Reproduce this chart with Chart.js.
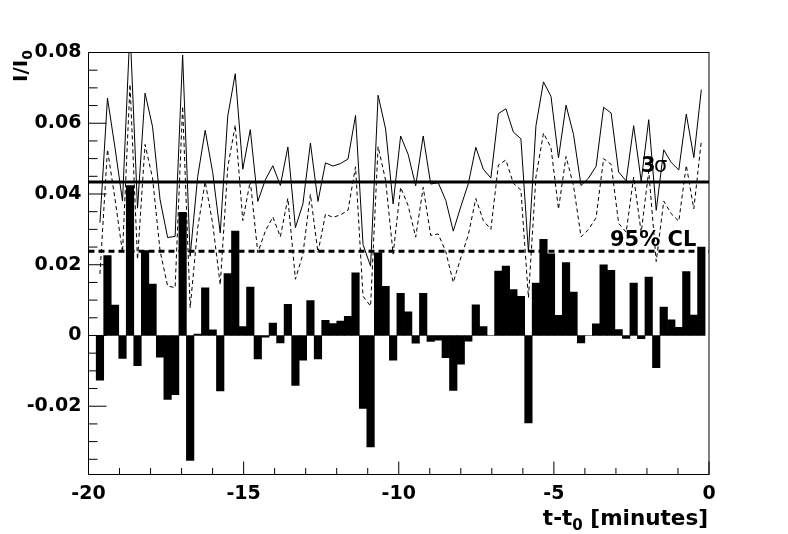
<!DOCTYPE html>
<html><head><meta charset="utf-8">
<script src="https://cdn.jsdelivr.net/npm/chart.js@4.4.1/dist/chart.umd.min.js"></script>
<style>html,body{margin:0;padding:0;background:#fff;}canvas{display:block;}</style>
</head><body>
<canvas id="c" width="788" height="534"></canvas>
<script>
// bin centres, minutes relative to t0
const binTimes = [
 -19.631,-19.389,-19.146,-18.904,-18.662,-18.420,-18.177,-17.935,-17.693,-17.450,
 -17.208,-16.966,-16.723,-16.481,-16.239,-15.997,-15.754,-15.512,-15.270,-15.027,
 -14.785,-14.543,-14.300,-14.058,-13.816,-13.574,-13.331,-13.089,-12.847,-12.604,
 -12.362,-12.120,-11.877,-11.635,-11.393,-11.151,-10.908,-10.666,-10.424,-10.181,
 -9.939,-9.697,-9.454,-9.212,-8.970,-8.728,-8.485,-8.243,-8.001,-7.758,
 -7.516,-7.274,-7.031,-6.789,-6.547,-6.305,-6.062,-5.820,-5.578,-5.335,
 -5.093,-4.851,-4.608,-4.366,-4.124,-3.882,-3.639,-3.397,-3.155,-2.912,
 -2.670,-2.428,-2.185,-1.943,-1.701,-1.459,-1.216,-0.974,-0.732,-0.489,
 -0.247];
// relative excess I/I0 per bin (histogram)
const excess = [
 -0.0126,0.0226,0.0086,-0.0065,0.0424,-0.0085,0.0240,0.0145,-0.0061,-0.0181,
 -0.0167,0.0348,-0.0353,0.0004,0.0135,0.0016,-0.0157,0.0175,0.0295,0.0025,
 0.0137,-0.0066,-0.0005,0.0035,-0.0021,0.0088,-0.0141,-0.0070,0.0099,-0.0066,
 0.0043,0.0034,0.0041,0.0054,0.0177,-0.0206,-0.0315,0.0234,0.0139,-0.0070,
 0.0119,0.0067,-0.0022,0.0119,-0.0017,-0.0013,-0.0063,-0.0155,-0.0081,-0.0016,
 0.0087,0.0025,0.0000,0.0182,0.0196,0.0130,0.0111,-0.0247,0.0148,0.0272,
 0.0231,0.0057,0.0206,0.0123,-0.0021,0.0000,0.0033,0.0200,0.0184,0.0017,
 -0.0008,0.0148,-0.0009,0.0165,-0.0091,0.0080,0.0044,0.0023,0.0181,0.0058,
 0.0250];
// 3 sigma upper limit per bin (solid thin line)
const limit3sigma = [
 0.0319,0.0671,0.0531,0.0380,0.0869,0.0360,0.0685,0.0590,0.0384,0.0277,
 0.0280,0.0793,0.0224,0.0449,0.0580,0.0461,0.0290,0.0620,0.0740,0.0470,
 0.0582,0.0379,0.0440,0.0480,0.0424,0.0533,0.0305,0.0372,0.0544,0.0379,
 0.0488,0.0479,0.0486,0.0499,0.0622,0.0257,0.0196,0.0679,0.0584,0.0372,
 0.0564,0.0512,0.0423,0.0564,0.0428,0.0432,0.0382,0.0295,0.0364,0.0429,
 0.0532,0.0470,0.0445,0.0627,0.0641,0.0575,0.0556,0.0236,0.0593,0.0717,
 0.0676,0.0502,0.0651,0.0568,0.0424,0.0445,0.0478,0.0645,0.0629,0.0462,
 0.0437,0.0593,0.0436,0.0610,0.0354,0.0525,0.0489,0.0468,0.0626,0.0503,
 0.0695];
// 95% CL upper limit per bin (dashed thin line)
const limit95 = [
 0.0174,0.0526,0.0386,0.0235,0.0710,0.0215,0.0540,0.0445,0.0239,0.0140,
 0.0135,0.0648,0.0078,0.0304,0.0435,0.0316,0.0143,0.0475,0.0595,0.0325,
 0.0437,0.0234,0.0295,0.0335,0.0279,0.0388,0.0159,0.0230,0.0399,0.0234,
 0.0343,0.0334,0.0341,0.0354,0.0477,0.0111,0.0083,0.0534,0.0439,0.0230,
 0.0419,0.0367,0.0278,0.0419,0.0283,0.0287,0.0237,0.0150,0.0219,0.0284,
 0.0387,0.0325,0.0300,0.0482,0.0496,0.0430,0.0411,0.0107,0.0448,0.0572,
 0.0531,0.0357,0.0506,0.0423,0.0279,0.0300,0.0333,0.0500,0.0484,0.0317,
 0.0292,0.0448,0.0291,0.0465,0.0209,0.0380,0.0344,0.0323,0.0481,0.0358,
 0.0550];
const xTickValues = [-20,-15,-10,-5,0];
const yTickValues = [-0.02,0,0.02,0.04,0.06,0.08];
const level3sigma = 0.0434;
const level95CL = 0.0238;
const xRange = [-20, 0];
const yRange = [-0.0393, 0.08];

const FONT = '"DejaVu Sans"';
const pts = (ys) => ys.map((y, i) => ({x: binTimes[i], y}));

const framePlugin = {
  id: 'frame',
  beforeDraw(chart) {
    const c = chart.ctx;
    c.save(); c.fillStyle = '#fff'; c.fillRect(0, 0, chart.width, chart.height); c.restore();
  },
  afterDraw(chart) {
    const c = chart.ctx, a = chart.chartArea;
    const xs = chart.scales.x, ys = chart.scales.y;
    c.save();
    c.strokeStyle = '#000'; c.lineWidth = 1;
    c.strokeRect(a.left, a.top, a.right - a.left, a.bottom - a.top);
    c.beginPath();
    // y ticks (inside, on left)
    for (let v = -0.035; v <= 0.0801; v += 0.005) {
      const vv = Math.round(v * 1000) / 1000;
      const p = ys.getPixelForValue(vv);
      const major = Math.abs(Math.round(vv / 0.02) * 0.02 - vv) < 1e-6;
      c.moveTo(a.left, p); c.lineTo(a.left + (major ? 18 : 9), p);
    }
    // x ticks (inside, on bottom)
    for (let m = -20; m <= 0; m++) {
      const p = xs.getPixelForValue(m);
      const major = m % 5 === 0;
      c.moveTo(p, a.bottom); c.lineTo(p, a.bottom - (major ? 13 : 6.5));
    }
    c.stroke();

    // annotations
    c.fillStyle = '#000';
    c.font = 'bold 21px ' + FONT;
    c.textBaseline = 'alphabetic';
    c.textAlign = 'left';
    c.fillText('3', 641, 172);
    c.font = '21px ' + FONT;
    c.fillText('σ', 654, 172);
    c.font = 'bold 21px ' + FONT;
    c.fillText('95% CL', 610, 246);

    // axis titles with subscripts
    function measure(parts, size) {
      let w = 0;
      parts.forEach(p => { c.font = 'bold ' + (p.sub ? size * 0.7 : size) + 'px ' + FONT; p.w = c.measureText(p.t).width; w += p.w; });
      return w;
    }
    const xs0 = 21.5;
    const xt = [{t: 't-t'}, {t: '0', sub: true}, {t: ' [minutes]'}];
    const xw = measure(xt, xs0);
    let x0 = 708 - xw;
    xt.forEach(p => { c.font = 'bold ' + (p.sub ? xs0 * 0.7 : xs0) + 'px ' + FONT; c.fillText(p.t, x0, p.sub ? 530 : 525); x0 += p.w; });

    const yt = [{t: 'I/I'}, {t: '0', sub: true}];
    const yw = measure(yt, 20);
    c.translate(27, 50);
    c.rotate(-Math.PI / 2);
    let y0 = -yw;
    yt.forEach(p => { c.font = 'bold ' + (p.sub ? 14 : 20) + 'px ' + FONT; c.fillText(p.t, y0, p.sub ? 5 : 0); y0 += p.w; });
    c.restore();
  }
};

new Chart(document.getElementById('c'), {
  data: {
    datasets: [
      {type: 'line', label: '3 sigma level', data: [{x: xRange[0], y: level3sigma}, {x: xRange[1], y: level3sigma}],
       borderColor: '#000', borderWidth: 3, pointRadius: 0, order: 0},
      {type: 'line', label: '95% CL level', data: [{x: xRange[0], y: level95CL}, {x: xRange[1], y: level95CL}],
       borderColor: '#000', borderWidth: 3, borderDash: [6, 4], pointRadius: 0, order: 0},
      {type: 'line', label: '3 sigma limit', data: pts(limit3sigma), borderColor: '#000', borderWidth: 1,
       pointRadius: 0, tension: 0, order: 1},
      {type: 'line', label: '95% CL limit', data: pts(limit95), borderColor: '#000', borderWidth: 1,
       borderDash: [4, 3], pointRadius: 0, tension: 0, order: 1},
      {type: 'bar', label: 'I/I0', data: pts(excess), backgroundColor: '#000', borderWidth: 0,
       barPercentage: 1.0, categoryPercentage: 1.0, order: 2}
    ]
  },
  options: {
    responsive: false, animation: false, devicePixelRatio: 1,
    layout: {padding: {left: 0, top: 52.5, right: 79, bottom: 0}},
    plugins: {legend: {display: false}, tooltip: {enabled: false}},
    scales: {
      x: {type: 'linear', min: xRange[0], max: xRange[1], offset: false,
          grid: {display: false, drawTicks: false, tickLength: 0}, border: {display: false},
          ticks: {stepSize: 5, padding: 8, color: '#000', maxRotation: 0,
                  font: {family: FONT, size: 19, weight: 'bold'}},
          afterBuildTicks: s => { s.ticks = xTickValues.map(v => ({value: v})); },
          afterFit: s => { s.height = 534 - 474.5; }},
      y: {type: 'linear', min: yRange[0], max: yRange[1],
          grid: {display: false, drawTicks: false, tickLength: 0}, border: {display: false},
          ticks: {padding: 7, color: '#000', font: {family: FONT, size: 19, weight: 'bold'},
                  callback: v => (Math.abs(v) < 1e-9 ? '0' : v.toFixed(2))},
          afterBuildTicks: s => { s.ticks = yTickValues.map(v => ({value: v})); },
          afterFit: s => { s.width = 88.5; }}
    }
  },
  plugins: [framePlugin]
});
</script>
</body></html>
